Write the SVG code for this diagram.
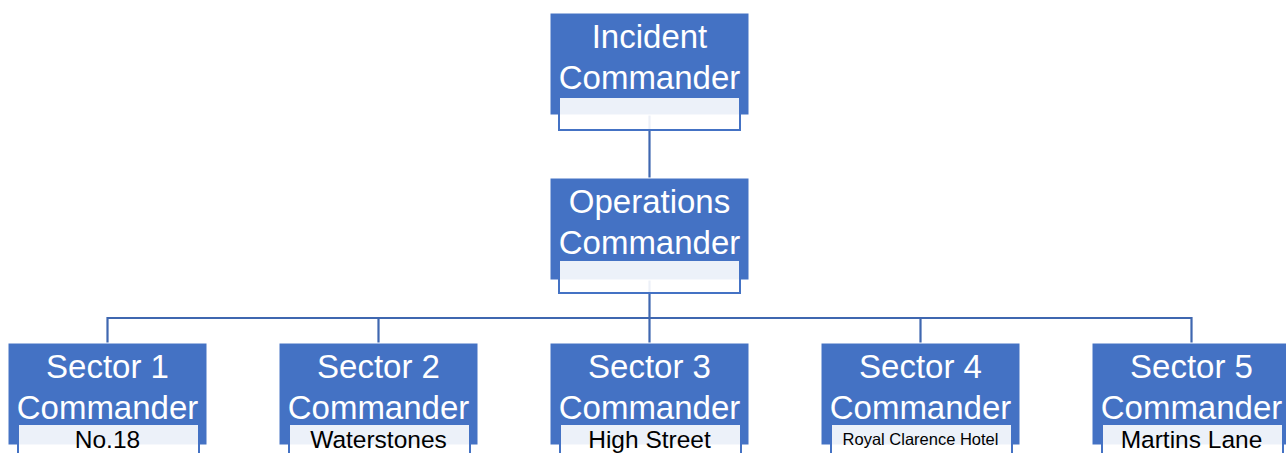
<svg xmlns="http://www.w3.org/2000/svg" width="1286" height="453" viewBox="0 0 1286 453">
<style>
.box{fill:#4472C4;stroke:#ffffff;stroke-width:1}
.sub{fill:#ffffff;fill-opacity:0.9;stroke:#4472C4;stroke-width:2}
.t{font-family:"Liberation Sans",Arial,sans-serif;font-size:33px;fill:#ffffff;text-anchor:middle}
.s{font-family:"Liberation Sans",Arial,sans-serif;font-size:24.5px;fill:#000000;text-anchor:middle}
.conn{stroke:#3F67B0;stroke-width:2.2;fill:none}
</style>
<rect width="1286" height="453" fill="#ffffff"/>
<g id="connectors">
<path class="conn" d="M649.5 115 V178"/>
<path class="conn" d="M649.5 280 V318 M107.5 343 V318 H1191.5 V343 M378.5 318 V343 M649.5 318 V343 M920.5 318 V343"/>
</g>
<g id="incident">
<rect class="box" x="550" y="13" width="199" height="102"/>
<rect class="sub" x="559" y="97" width="181" height="33"/>
<text class="t" x="649.5" y="48">Incident</text>
<text class="t" x="649.5" y="89">Commander</text>
</g>
<g id="operations">
<rect class="box" x="550" y="178" width="199" height="102"/>
<rect class="sub" x="559" y="260" width="181" height="33"/>
<text class="t" x="649.5" y="213">Operations</text>
<text class="t" x="649.5" y="254">Commander</text>
</g>
<g id="sector1">
<rect class="box" x="8" y="343" width="199" height="102"/>
<rect class="sub" x="18" y="424" width="181" height="33"/>
<text class="t" x="107.5" y="378">Sector 1</text>
<text class="t" x="107.5" y="419">Commander</text>
<text class="s" x="107.5" y="448">No.18</text>
</g>
<g id="sector2">
<rect class="box" x="279" y="343" width="199" height="102"/>
<rect class="sub" x="289" y="424" width="181" height="33"/>
<text class="t" x="378.5" y="378">Sector 2</text>
<text class="t" x="378.5" y="419">Commander</text>
<text class="s" x="378.5" y="448">Waterstones</text>
</g>
<g id="sector3">
<rect class="box" x="550" y="343" width="199" height="102"/>
<rect class="sub" x="560" y="424" width="181" height="33"/>
<text class="t" x="649.5" y="378">Sector 3</text>
<text class="t" x="649.5" y="419">Commander</text>
<text class="s" x="649.5" y="448">High Street</text>
</g>
<g id="sector4">
<rect class="box" x="821" y="343" width="199" height="102"/>
<rect class="sub" x="831" y="424" width="181" height="33"/>
<text class="t" x="920.5" y="378">Sector 4</text>
<text class="t" x="920.5" y="419">Commander</text>
<text class="s" x="920.5" y="445" style="font-size:16.5px">Royal Clarence Hotel</text>
</g>
<g id="sector5">
<rect class="box" x="1092" y="343" width="199" height="102"/>
<rect class="sub" x="1102" y="424" width="181" height="33"/>
<text class="t" x="1191.5" y="378">Sector 5</text>
<text class="t" x="1191.5" y="419">Commander</text>
<text class="s" x="1191.5" y="448">Martins Lane</text>
</g>
</svg>
